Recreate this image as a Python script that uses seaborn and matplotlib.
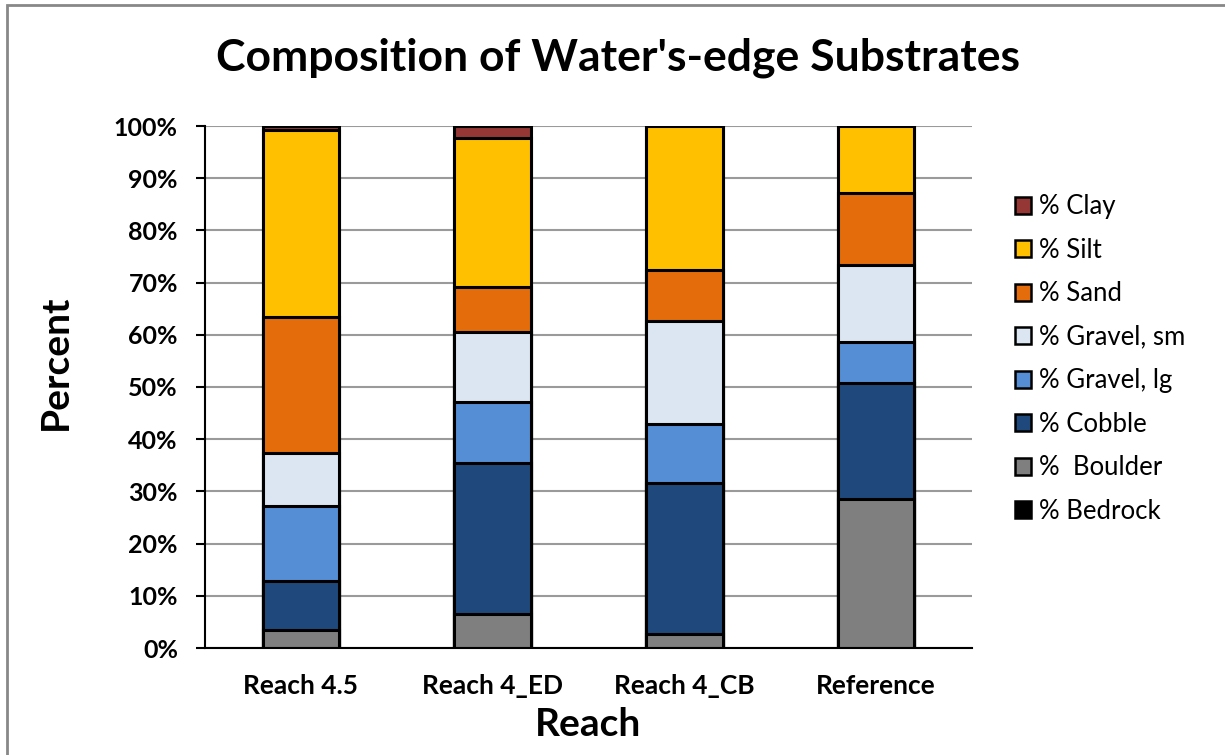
import numpy as np
import pandas as pd
import matplotlib
matplotlib.use("Agg")
import matplotlib.pyplot as plt
from matplotlib.patches import Patch, Rectangle
import seaborn as sns

# Datos (porcentaje de cada sustrato por tramo)
reaches = ["Reach 4.5", "Reach 4_ED", "Reach 4_CB", "Reference"]
bedrock = [0.0, 0.0, 0.0, 0.0]
boulder = [3.4, 6.5, 2.7, 28.5]
cobble = [9.4, 28.9, 28.9, 22.3]
gravel_lg = [14.4, 11.7, 11.3, 7.8]
gravel_sm = [10.2, 13.4, 19.7, 14.8]
sand = [26.0, 8.7, 9.8, 13.8]
silt = [35.8, 28.5, 27.6, 12.8]
clay = [0.8, 2.3, 0.0, 0.0]

labels = ["% Bedrock", "%  Boulder", "% Cobble", "% Gravel, lg",
          "% Gravel, sm", "% Sand", "% Silt", "% Clay"]
colors = ["#000000", "#7F7F7F", "#1F497D", "#558ED5",
          "#DCE6F2", "#E46C0A", "#FFC000", "#953735"]
series = [bedrock, boulder, cobble, gravel_lg, gravel_sm, sand, silt, clay]

# Sumas acumuladas para apilar
cum = np.cumsum(np.array(series), axis=0)
df = pd.DataFrame(cum.T, columns=labels)
df["Reach"] = reaches

sns.set_style("white")
plt.rcParams["font.family"] = ["Lato", "DejaVu Sans"]
plt.rcParams["text.color"] = "black"
plt.rcParams["xtick.color"] = "black"
plt.rcParams["ytick.color"] = "black"

fig = plt.figure(figsize=(12.25, 7.55), dpi=100)
ax = fig.add_axes([205 / 1225, 1 - 648 / 755, 767 / 1225, 522 / 755])

# Dibujar de arriba hacia abajo para que las barras se superpongan
for lab, col in zip(labels[::-1], colors[::-1]):
    sns.barplot(data=df, x="Reach", y=lab, color=col, width=0.4,
                edgecolor="black", linewidth=2.2, saturation=1, ax=ax, zorder=3)

ax.set_ylim(0, 100)
ax.set_xlim(-0.5, 3.5)
ax.set_yticks(np.arange(0, 101, 10))
ax.set_yticklabels([f"{v}%" for v in range(0, 101, 10)], fontsize=18, fontweight="bold")
ax.set_xticks(range(4))
ax.set_xticklabels(reaches, fontsize=19, fontweight="bold")
ax.set_xticks(np.arange(-0.5, 4, 1), minor=True)
ax.tick_params(axis="x", which="major", length=0, pad=19)
ax.tick_params(axis="x", which="minor", length=6, width=1.5, direction="out", color="black")
ax.tick_params(axis="y", length=6.5, width=1.5, direction="out", color="black", pad=13, left=True)
ax.yaxis.grid(True, color="#9a9a9a", linewidth=1.5, zorder=0)
ax.set_axisbelow(True)
for s in ["top", "right"]:
    ax.spines[s].set_visible(False)
for s in ["left", "bottom"]:
    ax.spines[s].set_color("black")
    ax.spines[s].set_linewidth(1.5)
ax.set_xlabel("")
ax.set_ylabel("")

fig.text(618 / 1225, 1 - 58 / 755, "Composition of Water's-edge Substrates",
         ha="center", va="center", fontsize=32, fontweight="bold")
fig.text(55 / 1225, 1 - 362 / 755, "Percent", ha="center", va="center",
         rotation=90, fontsize=28, fontweight="bold")
fig.text(588 / 1225, 1 - 724 / 755, "Reach", ha="center", va="center",
         fontsize=28, fontweight="bold")

handles = [Patch(facecolor=c, edgecolor="black", linewidth=1.8, label=l)
           for l, c in zip(labels[::-1], colors[::-1])]
fig.legend(handles=handles, loc="upper left", bbox_to_anchor=(1005 / 1225, 1 - 184 / 755),
           frameon=False, fontsize=18.5, handlelength=0.62, handleheight=0.62,
           handletextpad=0.3, labelspacing=0.72, borderaxespad=0)

# Marco gris del área del gráfico
fig.patches.append(Rectangle((7 / 1225, -0.01), 1.1, 1 - 5 / 755 + 0.01,
                             transform=fig.transFigure, fill=False,
                             edgecolor="#888888", linewidth=2))

fig.savefig("out.png", dpi=100)
